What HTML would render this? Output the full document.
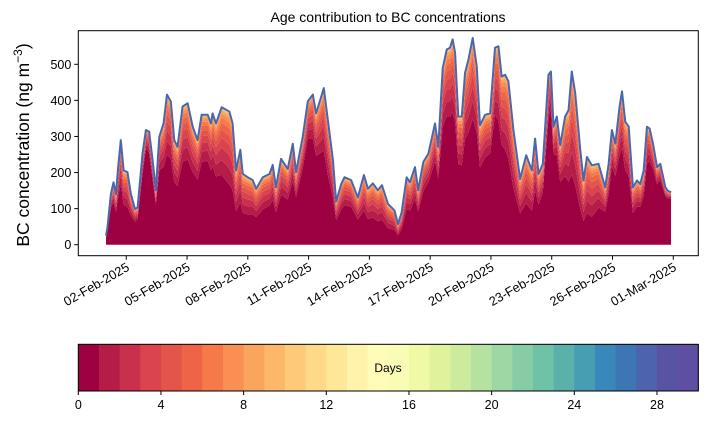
<!DOCTYPE html>
<html><head><meta charset="utf-8">
<style>
html,body{margin:0;padding:0;background:#fff;}
svg{display:block;font-family:"Liberation Sans","DejaVu Sans",sans-serif;}
</style></head>
<body>
<svg id="chart" width="707" height="425" viewBox="0 0 707 425" xmlns="http://www.w3.org/2000/svg">
<text x="388" y="22" font-size="14" text-anchor="middle">Age contribution to BC concentrations</text>
<text transform="translate(29,145) rotate(-90)" font-size="17.5" text-anchor="middle">BC concentration (ng m<tspan font-size="12" dy="-7">−3</tspan><tspan dy="7">)</tspan></text>
<g id="plot"></g>
<g id="cbar"></g>
</svg>
<script>
// ---- data ----
const days = [0.0,0.07,0.24,0.37,0.49,0.60,0.73,0.87,1.06,1.23,1.43,1.56,1.80,1.97,2.13,2.30,2.46,2.63,2.84,3.01,3.20,3.37,3.53,3.78,4.03,4.28,4.52,4.72,5.02,5.18,5.26,5.43,5.71,6.09,6.25,6.42,6.63,6.75,6.99,7.24,7.41,7.74,8.07,8.23,8.39,8.64,8.97,9.22,9.38,9.71,9.96,10.21,10.37,10.75,10.95,11.20,11.36,11.61,11.77,12.10,12.43,12.73,12.93,13.17,13.42,13.62,13.92,14.24,14.41,14.59,14.84,15.00,15.25,15.41,15.66,15.91,16.24,16.40,16.62,16.82,16.98,17.11,17.23,17.39,17.56,17.72,17.89,18.10,18.30,18.46,18.71,18.96,19.20,19.37,19.53,19.70,19.86,20.11,20.44,20.74,21.02,21.18,21.35,21.56,21.84,21.96,22.09,22.25,22.42,22.66,22.83,22.99,23.16,23.41,23.57,23.74,23.98,24.31,24.64,24.81,24.97,25.14,25.35,25.47,25.63,25.80,26.01,26.21,26.37,26.54,26.70,26.83,27.00,27.20,27.36,27.61,27.72,27.89];
const totals = [25,47,140,173,140,215,290,206,201,140,99,103,252,318,313,235,151,299,336,416,397,290,271,383,392,327,290,360,360,336,364,336,381,369,336,206,263,196,187,179,155,187,196,221,159,238,210,280,201,299,397,416,364,434,346,235,120,168,187,179,131,193,155,170,151,165,113,95,57,89,187,173,215,151,229,252,336,271,490,541,546,569,532,355,355,476,513,573,494,331,360,364,546,550,466,471,453,318,182,248,206,294,196,224,471,480,327,355,276,355,373,480,420,262,178,243,220,224,159,224,318,280,383,425,341,327,159,178,168,206,327,322,280,215,224,159,150,145];
// share of the youngest (0-1 day) age class, one value per day
const freshShare = [0.8,0.5,0.85,0.6,0.6,0.65,0.45,0.45,0.55,0.6,0.75,0.55,0.6,0.45,0.4,0.55,0.7,0.65,0.6,0.7,0.5,0.45,0.8,0.4,0.35,0.7,0.55,0.75,0.9];
// cumulative share of remaining (older) mass in successive age classes
const olderCum = [0.22,0.4,0.55,0.67,0.77,0.85,0.91,0.95,0.975,0.99,1.0];
const yTicks = [0,100,200,300,400,500];
const xTickLabels = ["02-Feb-2025","05-Feb-2025","08-Feb-2025","11-Feb-2025","14-Feb-2025","17-Feb-2025","20-Feb-2025","23-Feb-2025","26-Feb-2025","01-Mar-2025"];
const xTickDays = [1,4,7,10,13,16,19,22,25,28];
const cbTicks = [0,4,8,12,16,20,24,28];
const spectral = ["#9e0142","#b61c48","#c9304d","#d9444e","#e3554a","#ed6446","#f67a49","#f98f53","#fba45d","#fdb768","#fdca79","#fed987","#fee797","#fff2aa","#fffbb8","#f9fcb5","#eff9a6","#e1f39a","#cdeb9d","#b6e2a1","#9ed7a4","#86cca5","#70c2a6","#5bb0aa","#479eb3","#3a87b9","#3d76b5","#4d63ac","#5853a3","#5e4fa2"];

// ---- axes ----
const NS="http://www.w3.org/2000/svg";
const X0=78.3, X1=698.3, Y0=30.7, Y1=255.7;
const xs = d => 106.0 + d*20.26;
const ys = v => 244.7 - v*0.3608;
const plot=document.getElementById('plot');
const cbar=document.getElementById('cbar');
function mk(tag,attrs,parent){const e=document.createElementNS(NS,tag);for(const k in attrs)e.setAttribute(k,attrs[k]);parent.appendChild(e);return e;}
function share(d){const i=Math.max(0,Math.min(freshShare.length-2,Math.floor(d)));const f=d-i;return freshShare[i]*(1-f)+freshShare[i+1]*f;}

const base = totals.map((t,i)=>t*share(days[i]));
function areaPath(lo,hi){
  let p="M"+xs(days[0])+","+ys(hi[0]);
  for(let i=1;i<days.length;i++)p+="L"+xs(days[i]).toFixed(2)+","+ys(hi[i]).toFixed(2);
  for(let i=days.length-1;i>=0;i--)p+="L"+xs(days[i]).toFixed(2)+","+ys(lo[i]).toFixed(2);
  return p+"Z";
}
let prev = days.map(()=>0);
let layer = mk('path',{d:areaPath(prev,base),fill:spectral[0]},plot);


prev=base;
olderCum.forEach((c,k)=>{
  const hi = totals.map((t,i)=>base[i]+(t-base[i])*c);
  const el = mk('path',{d:areaPath(prev,hi),fill:spectral[k+1]},plot);
  
  
  prev=hi;
});
let lp="";
days.forEach((d,i)=>{lp+=(i?"L":"M")+xs(d).toFixed(2)+","+ys(totals[i]).toFixed(2);});
const line=mk('path',{d:lp,fill:"none",stroke:"#4a66ad","stroke-width":2,"stroke-linejoin":"round"},plot);



const frame=mk('rect',{x:X0,y:Y0,width:X1-X0,height:Y1-Y0,fill:"none",stroke:"#000","stroke-width":1},plot);


yTicks.forEach(v=>{
  const y=ys(v);
  mk('line',{x1:X0-4,x2:X0,y1:y,y2:y,stroke:"#000"},plot);
  const t=mk('text',{x:X0-7,y:y+4.5,"font-size":12.5,"text-anchor":"end"},plot);
  t.textContent=v;
  
  
});
xTickDays.forEach((d,i)=>{
  const x=xs(d);
  mk('line',{x1:x,x2:x,y1:Y1,y2:Y1+4,stroke:"#000"},plot);
  const t=mk('text',{x:0,y:0,"font-size":12.8,"text-anchor":"end",transform:`translate(${x+4},${Y1+14}) rotate(-30)`},plot);
  t.textContent=xTickLabels[i];
  
  
});

// colorbar
const CX0=78.3, CX1=698.3, CY0=344.3, CY1=391;
const cw=(CX1-CX0)/spectral.length;
spectral.forEach((c,i)=>{
  const r=mk('rect',{x:CX0+i*cw,y:CY0,width:cw+0.5,height:CY1-CY0,fill:c},cbar);
  
  
});
mk('rect',{x:CX0,y:CY0,width:CX1-CX0,height:CY1-CY0,fill:"none",stroke:"#000"},cbar);
const dl=mk('text',{x:388,y:372,"font-size":12,"text-anchor":"middle"},cbar);
dl.textContent="Days";


cbTicks.forEach(v=>{
  const x=CX0+v*cw;
  mk('line',{x1:x,x2:x,y1:CY1,y2:CY1+4,stroke:"#000"},cbar);
  const t=mk('text',{x:x,y:CY1+18,"font-size":12.5,"text-anchor":"middle"},cbar);
  t.textContent=v;
  
  
});
</script>
</body></html>
